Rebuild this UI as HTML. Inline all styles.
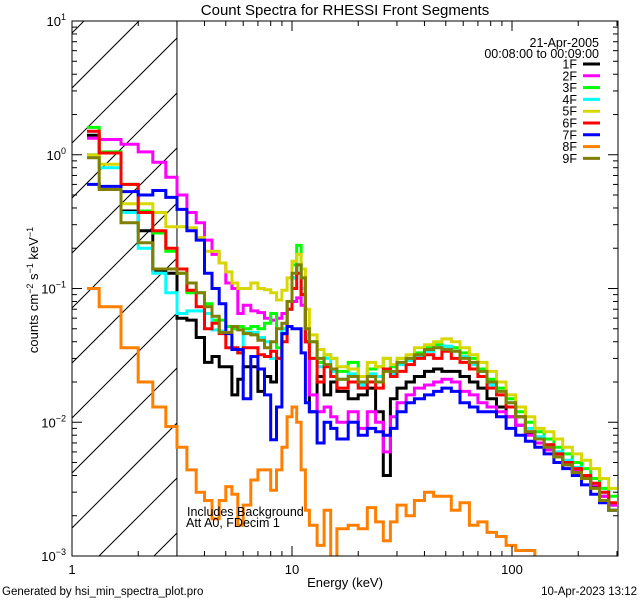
<!DOCTYPE html>
<html><head><meta charset="utf-8"><style>
html,body{margin:0;padding:0;background:#fff;}
svg{display:block;font-family:"Liberation Sans",sans-serif;}
</style></head><body>
<svg id="chart" width="640" height="600" viewBox="0 0 640 600" xmlns="http://www.w3.org/2000/svg">
<rect x="0" y="0" width="640" height="600" fill="#fff"/>
<text x="345" y="15" font-size="15" text-anchor="middle">Count Spectra for RHESSI Front Segments</text>
<g id="hatch"></g>
<g id="series"></g>
<g id="axes"></g>
<text x="187" y="516" font-size="12.5">Includes Background</text>
<text x="186" y="527" font-size="12.5">Att A0, FDecim 1</text>
<text x="599" y="47" font-size="12.5" text-anchor="end">21-Apr-2005</text>
<text x="599" y="58" font-size="12.5" text-anchor="end">00:08:00 to 00:09:00</text>
<g id="legend"></g>
<text x="345" y="587" font-size="13" text-anchor="middle">Energy (keV)</text>
<text transform="translate(38,290) rotate(-90)" font-size="13" text-anchor="middle">counts cm<tspan dy="-5" font-size="9">−2</tspan><tspan dy="5"> s</tspan><tspan dy="-5" font-size="9">−1</tspan><tspan dy="5"> keV</tspan><tspan dy="-5" font-size="9">−1</tspan></text>
<text x="2" y="595" font-size="11.5">Generated by hsi_min_spectra_plot.pro</text>
<text x="637" y="595" font-size="11.5" text-anchor="end">10-Apr-2023 13:12</text>
</svg>
<script>
// ---- data ----
const edges = [1.17,1.33,1.67,2,2.33,2.67,3,3.33,3.67,4,4.33,4.67,5,5.33,5.67,6,6.5,7,7.5,8,8.5,9,9.5,10,10.5,11,11.5,12,13,14,15,16,18,20,22,24,26,28,30,33,36,40,44,48,53,58,64,70,77,85,94,104,115,127,140,155,170,188,207,228,250,275,300];
const seriesNames = ["1F","2F","3F","4F","5F","6F","7F","8F","9F"];
const seriesColors = ["#000000","#ff00ff","#00ff00","#00ffff","#d8d800","#ff0000","#0000ff","#ff8000","#808000"];
const s1F = [1.4,1.03,0.38,0.27,0.137,0.13,0.06,0.058,0.043,0.028,0.031,0.026,0.026,0.016,0.021,0.026,0.026,0.017,0.022,0.02,0.03,0.046,0.08,0.12,0.15,0.09,0.04,
 0.012,0.022,0.016,0.02,0.017,0.015,0.016,0.018,0.012,0.004,0.015,0.018,0.02,0.022,0.024,0.025,0.024,0.024,0.022,0.02,0.018,0.015,0.013,0.011,0.0095,0.0082,0.007,0.0062,0.0055,0.0048,0.0043,0.0038,0.0033,0.0028,0.0024];
const s2F = [1.33,1.3,1.2,1.05,0.88,0.68,0.5,0.37,0.31,0.23,0.18,0.155,0.11,0.1,0.065,0.075,0.068,0.066,0.06,0.058,0.06,0.065,0.07,0.08,0.085,0.075,0.04,
 0.016,0.012,0.013,0.011,0.01,0.012,0.009,0.012,0.01,0.006,0.011,0.014,0.016,0.018,0.019,0.02,0.021,0.02,0.017,0.016,0.014,0.013,0.012,0.011,0.0095,0.008,0.007,0.0062,0.0055,0.005,0.0044,0.0039,0.0034,0.0028,0.0024];
const s3F = [1.6,1.05,0.6,0.38,0.26,0.19,0.13,0.093,0.093,0.077,0.058,0.058,0.052,0.05,0.052,0.05,0.052,0.05,0.055,0.065,0.036,0.05,0.08,0.15,0.21,0.12,0.05,
 0.04,0.028,0.032,0.03,0.024,0.028,0.022,0.025,0.026,0.03,0.026,0.03,0.03,0.033,0.036,0.038,0.037,0.036,0.033,0.03,0.025,0.021,0.018,0.015,0.012,0.01,0.0085,0.0075,0.0065,0.0058,0.005,0.0045,0.0038,0.0032,0.0028];
const s4F = [1.0,0.8,0.37,0.2,0.13,0.093,0.065,0.068,0.068,0.065,0.049,0.048,0.046,0.036,0.033,0.047,0.047,0.043,0.04,0.03,0.03,0.05,0.07,0.12,0.15,0.1,0.045,
 0.03,0.026,0.03,0.024,0.021,0.023,0.019,0.023,0.022,0.025,0.023,0.027,0.029,0.031,0.034,0.036,0.037,0.034,0.031,0.027,0.024,0.019,0.016,0.014,0.011,0.009,0.0078,0.0068,0.006,0.0052,0.0046,0.004,0.0035,0.003,0.0022];
const s5F = [1.0,0.85,0.43,0.43,0.37,0.29,0.29,0.285,0.24,0.19,0.19,0.155,0.133,0.11,0.1,0.1,0.11,0.1,0.098,0.093,0.082,0.097,0.12,0.16,0.18,0.14,0.07,
 0.045,0.035,0.032,0.03,0.026,0.025,0.022,0.028,0.026,0.03,0.027,0.03,0.032,0.036,0.038,0.04,0.042,0.04,0.036,0.032,0.028,0.024,0.02,0.016,0.013,0.011,0.009,0.0085,0.0075,0.0065,0.0058,0.0052,0.0045,0.0038,0.0032];
const s6F = [1.5,1.03,0.6,0.37,0.27,0.2,0.14,0.097,0.073,0.05,0.055,0.046,0.036,0.036,0.033,0.036,0.036,0.032,0.031,0.034,0.03,0.04,0.07,0.1,0.13,0.09,0.04,
 0.03,0.02,0.026,0.022,0.018,0.02,0.018,0.02,0.018,0.025,0.022,0.024,0.027,0.03,0.032,0.03,0.034,0.03,0.028,0.025,0.022,0.018,0.016,0.013,0.011,0.0085,0.0075,0.0068,0.0058,0.005,0.0045,0.004,0.0035,0.003,0.0025];
const s7F = [0.6,0.58,0.53,0.5,0.54,0.48,0.39,0.27,0.23,0.13,0.1,0.077,0.046,0.035,0.035,0.015,0.031,0.025,0.016,0.0074,0.013,0.046,0.052,0.05,0.05,0.033,0.014,
 0.012,0.007,0.01,0.009,0.0075,0.01,0.008,0.009,0.0085,0.008,0.009,0.012,0.014,0.015,0.016,0.017,0.018,0.017,0.014,0.013,0.012,0.012,0.011,0.009,0.008,0.0072,0.0065,0.0058,0.005,0.0045,0.004,0.0034,0.0029,0.0025,0.0022];
const s8F = [0.1,0.073,0.036,0.02,0.013,0.0093,0.0065,0.0044,0.003,0.0026,0.0019,0.0026,0.0033,0.0029,0.0017,0.0024,0.0037,0.0044,0.0044,0.0031,0.0044,0.0065,0.011,0.013,0.01,0.0044,0.0022,
 0.0017,0.0012,0.0022,0.0009,0.0016,0.0017,0.0016,0.0023,0.0018,0.0013,0.0018,0.0024,0.002,0.0026,0.003,0.0028,0.0028,0.0022,0.0025,0.0017,0.0018,0.0015,0.0014,0.0012,0.0011,0.0011,0.0008,0.0008,0.0007,0.0007,0.0006,0.0006,0.0005,0.0005,0.0005];
const s9F = [0.95,0.55,0.31,0.22,0.14,0.14,0.13,0.11,0.093,0.073,0.062,0.047,0.047,0.052,0.049,0.046,0.045,0.041,0.036,0.04,0.05,0.055,0.08,0.13,0.15,0.12,0.05,
 0.04,0.03,0.027,0.025,0.021,0.022,0.02,0.022,0.02,0.024,0.024,0.028,0.03,0.032,0.035,0.036,0.035,0.034,0.03,0.028,0.024,0.02,0.017,0.014,0.011,0.0085,0.0075,0.0065,0.0055,0.0048,0.0042,0.0038,0.0032,0.0026,0.0022];
const seriesValues = [s1F,s2F,s3F,s4F,s5F,s6F,s7F,s8F,s9F];
const xTickLabels = ["1","10","100"];
const yTickExps = [-3,-2,-1,0,1];

// ---- axes ----
const L=72,R=618,T=21,B=556;
const xMin=1, xMax=Math.pow(10,(R-L)/220);
const yMin=-3, yMax=1;
const NS="http://www.w3.org/2000/svg";
function X(e){return L+(Math.log10(e)-Math.log10(xMin))/(Math.log10(xMax)-Math.log10(xMin))*(R-L);}
function Y(v){return B-(Math.log10(v)-yMin)/(yMax-yMin)*(B-T);}
function mk(tag,attrs,parent){const el=document.createElementNS(NS,tag);for(const k in attrs)el.setAttribute(k,attrs[k]);parent.appendChild(el);return el;}

const svg=document.getElementById('chart');
// clip
const defs=mk('defs',{},svg);
const cp=mk('clipPath',{id:'plotclip'},defs);
mk('rect',{x:L,y:T,width:R-L,height:B-T},cp);

// hatch
const hg=document.getElementById('hatch');
hg.setAttribute('clip-path','url(#plotclip)');
const hx=X(3.0);
const hc=mk('clipPath',{id:'hatchclip'},defs);
mk('rect',{x:L,y:T,width:hx-L,height:B-T},hc);
const hin=mk('g',{'clip-path':'url(#hatchclip)'},hg);
for(let k=-12;k<6;k++){
  const x0=99+55*k;
  const ln=mk('line',{x1:x0,y1:B,x2:x0+(B-T),y2:T,stroke:'#000','stroke-width':1},hin);
  
  
}
const vl=mk('line',{x1:hx,y1:T,x2:hx,y2:B,stroke:'#000','stroke-width':1},hg);



// series
const sg=document.getElementById('series');
sg.setAttribute('clip-path','url(#plotclip)');
seriesValues.forEach((vals,si)=>{
  const n=Math.min(vals.length,edges.length-1);
  let d='';
  for(let i=0;i<n;i++){
    const v=Math.max(vals[i],1e-4);
    const x1=X(edges[i]),x2=X(edges[i+1]),y=Y(v);
    d+=(i===0?'M':'L')+x1.toFixed(1)+','+y.toFixed(1)+'L'+x2.toFixed(1)+','+y.toFixed(1);
  }
  const p=mk('path',{d:d,fill:'none',stroke:seriesColors[si],'stroke-width':3,'stroke-linejoin':'miter'},sg);
  
  
});

// axes
const ag=document.getElementById('axes');
const frame=mk('rect',{x:L,y:T,width:R-L,height:B-T,fill:'none',stroke:'#000','stroke-width':1},ag);


for(let dec=0;dec<3;dec++){
  for(let m=1;m<10;m++){
    const e=Math.pow(10,dec)*m;
    if(e>xMax)break;
    const x=X(e), len=(m===1)?10:5;
    const t1=mk('line',{x1:x,y1:B,x2:x,y2:B-len,stroke:'#000','stroke-width':1},ag);
    
    
    const t2=mk('line',{x1:x,y1:T,x2:x,y2:T+len,stroke:'#000','stroke-width':1},ag);
    
    
  }
}
xTickLabels.forEach(lbl=>{
  const tx=mk('text',{x:X(parseFloat(lbl)),y:B+18,'font-size':13,'text-anchor':'middle'},ag);
  tx.textContent=lbl;
  
  
});
yTickExps.forEach(ex=>{
  for(let m=1;m<10;m++){
    if(ex===yMax&&m>1)break;
    const v=Math.pow(10,ex)*m, y=Y(v), len=(m===1)?10:5;
    const t1=mk('line',{x1:L,y1:y,x2:L+len,y2:y,stroke:'#000','stroke-width':1},ag);
    
    
    const t2=mk('line',{x1:R,y1:y,x2:R-len,y2:y,stroke:'#000','stroke-width':1},ag);
    
    
  }
  const tx=mk('text',{x:L-6,y:Y(Math.pow(10,ex))+5,'font-size':13,'text-anchor':'end'},ag);
  
  
  tx.appendChild(document.createTextNode('10'));
  const sup=mk('tspan',{dy:-6,'font-size':9},tx);
  sup.textContent=(ex<0?'−':'')+Math.abs(ex);
});

// legend
const lg=document.getElementById('legend');
seriesNames.forEach((nm,i)=>{
  const y=64+i*11.8;
  const t=mk('text',{x:577,y:y+4.5,'font-size':12.5,'text-anchor':'end'},lg);
  t.textContent=nm;
  
  
  const l=mk('line',{x1:583,y1:y,x2:600,y2:y,stroke:seriesColors[i],'stroke-width':3},lg);
  
  
});
</script>
</body></html>
